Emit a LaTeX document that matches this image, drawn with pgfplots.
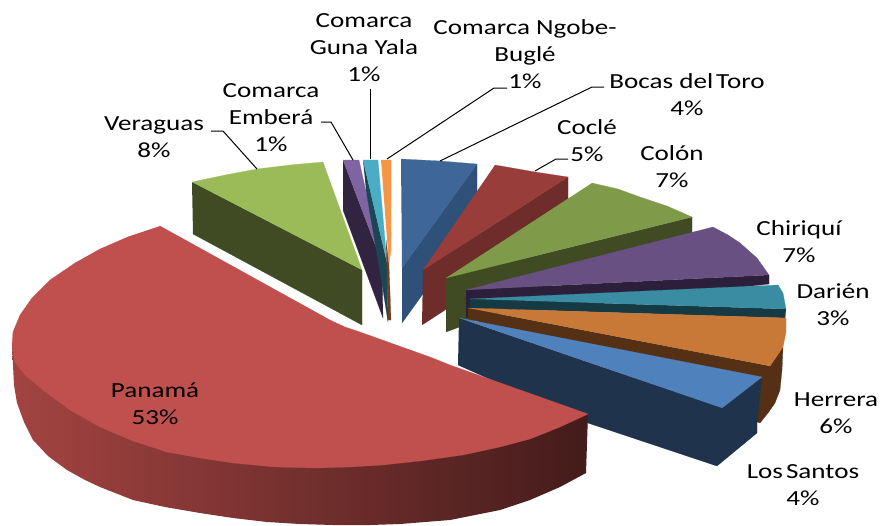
\documentclass[border=0pt]{standalone}
\usepackage{fontspec}
\setmainfont{Carlito}
\usepackage{pgfplots}
\pgfplotsset{compat=1.18}

\definecolor{verT}{RGB}{155,187,89}
\definecolor{verS}{RGB}{65,75,35}
\definecolor{embT}{RGB}{128,100,162}
\definecolor{embS}{RGB}{50,36,64}
\definecolor{gunT}{RGB}{75,172,198}
\definecolor{gunS}{RGB}{28,70,84}
\definecolor{ngoT}{RGB}{247,150,70}
\definecolor{ngoS}{RGB}{110,65,30}
\definecolor{bocT}{RGB}{62,103,152}
\definecolor{bocS}{RGB}{47,80,120}
\definecolor{cocT}{RGB}{152,61,58}
\definecolor{cocS}{RGB}{110,44,42}
\definecolor{colT}{RGB}{127,155,74}
\definecolor{colS}{RGB}{65,75,35}
\definecolor{chiT}{RGB}{105,80,130}
\definecolor{chiS}{RGB}{43,31,59}
\definecolor{darT}{RGB}{58,140,162}
\definecolor{darS}{RGB}{22,58,68}
\definecolor{herT}{RGB}{200,120,55}
\definecolor{herS}{RGB}{85,48,20}
\definecolor{lsaT}{RGB}{79,129,189}
\definecolor{lsaS}{RGB}{31,52,76}
\definecolor{panT}{RGB}{192,80,77}

\newcommand{\face}[2]{\addplot[fill=#1,draw=#1,line width=0.2pt,forget plot] coordinates {#2};}
\newcommand{\leader}[1]{\addplot[black,line width=1pt,forget plot] coordinates {#1};}
\newcommand{\lab}[3]{\node[align=center,text=black,xscale=1.26,font=\fontsize{21.5}{27}\selectfont] at (axis cs:#1,#2) {#3};}

\begin{document}
\begin{tikzpicture}
\begin{axis}[
    scale only axis,
    width=885pt, height=525pt,
    xmin=0, xmax=885, ymin=0, ymax=525,
    y dir=reverse,
    hide axis,
    clip=false,
    no markers,
]
\path (axis cs:0,0) rectangle (axis cs:885,525);
% Veraguas
\face{verS}{(192,182)(362,270)(362,325)(193,234)}
\face{verT}{(192,182)(225,175)(257,169)(290,165)(323,162)(362,270)}
% Comarca Embera
\face{embS}{(343,160)(382,263)(383,318)(343,210)}
\face{embT}{(343,160)(359,160)(382,263)}
% Comarca Guna Yala
\face{gunS}{(363,160)(387,263)(388,322)(383,290)(366,190)}
\face{gunT}{(363,160)(378,160)(387,263)}
% Comarca Ngobe-Bugle
\face{ngoS}{(386,240)(389,265)(391,320)(388,320)}
\face{ngoT}{(381,160)(391,160)(391,250)(389,265)}
% Bocas del Toro
\face{bocS}{(402,268)(477,164)(477,219)(402,323)}
\face{bocT}{(401,159)(440,161)(477,164)(402,268)}
% Cocle
\face{cocS}{(423,270)(568,177)(568,230)(422,325)}
\face{cocT}{(495,165)(535,172)(568,177)(423,270)}
% Colon
\face{colS}{(446,278)(692,217)(692,235)(600,260)(465,325)(446,332)}
\face{colT}{(592,183)(618,189)(640,197)(667,206)(692,217)(446,278)}
% Chiriqui
\face{chiS}{(466,290)(769,275)(769,284)(466,318)}
\face{chiT}{(466,290)(713,227)(728,235)(740,243)(757,258)(769,275)}
% Darien
\face{darS}{(470,299)(786,309)(785,318)(470,308)}
\face{darT}{(470,299)(778,285)(783,293)(786,309)}
% Herrera
\face{herS}{(468,308)(770,366)(783,347)(782,370)(780,390)(775,403)(768,413)(760,423)(468,318)}
\face{herT}{(468,308)(786,318)(786,332)(783,347)(770,366)}
% Los Santos
\face{lsaS}{(459,318)(722,408)(762,377)(757,422)(757,433)(717,466)(588,423)(458,365)}
\face{lsaT}{(459,318)(762,377)(722,408)}
% Panama
\addplot[shade,left color=panT!85!black,middle color=panT!60!black,right color=panT!35!black,draw=none,forget plot] coordinates {
 (12,345)(13,365)(14,385)(17,403)(24,422)(33,440)(48,456)(67,470)(85,480)(100,487)(133,500)(165,507)(200,513)(233,518)(267,522)(300,524)(333,525)(370,525)(400,524)(450,520)(480,514)(500,510)(530,500)(560,487)(586,473)(588,414)};
\face{panT}{(160,226)(330,320)(345,327)(360,332)(430,357)(450,365)(588,414)(560,427)(530,439)(500,447)(463,455)(420,461)(383,465)(350,467)(317,468)(275,467)(233,463)(200,458)(167,452)(133,441)(100,427)(70,410)(43,390)(25,375)(15,362)(12,345)(13,332)(20,315)(32,298)(50,280)(75,263)(100,249)(130,236)}
% leaders
\leader{(321,122)(331,122)(353,160)}
\leader{(370,89)(370,159)}
\leader{(507,88)(494,88)(387,159)}
\leader{(604,87)(592,87)(440,161)}
\leader{(568,159)(556,159)(535,171)}
\leader{(211,131)(223,131)(257,169)}
% labels
\lab{364}{48}{Comarca\\Guna Yala\\1\%}
\lab{525}{54}{Comarca Ngobe-\\Buglé\\1\%}
\lab{687}{95}{Bocas del\kern-2.5pt{} Toro\\4\%}
\lab{587}{141}{Coclé\\5\%}
\lab{672}{167}{Colón\\7\%}
\lab{799}{242}{Chiriquí\\7\%}
\lab{833}{305}{Darién\\3\%}
\lab{836}{413}{Herrera\\6\%}
\lab{803}{485}{Los\kern-2.5pt{} Santos\\4\%}
\lab{155}{404}{Panamá\\53\%}
\lab{154}{137}{Veraguas\\8\%}
\lab{271}{118}{Comarca\\Emberá\\1\%}
\end{axis}
\end{tikzpicture}
\end{document}
